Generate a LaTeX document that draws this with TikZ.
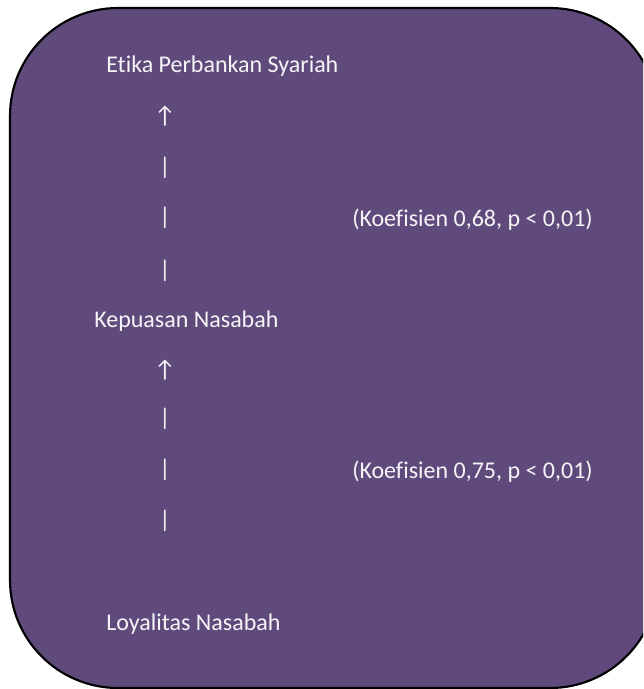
\documentclass[tikz,border=0pt]{standalone}
\usepackage{fontspec}
\setmainfont{Carlito}[Ligatures={NoCommon}]
\definecolor{boxpurple}{RGB}{96,74,123}
\definecolor{txtwhite}{RGB}{245,245,248}
\begin{document}
\begin{tikzpicture}[x=0.75pt,y=-0.75pt,
  lbl/.style={anchor=base west,inner sep=0pt,text=txtwhite,font=\fontsize{18}{20}\selectfont},
  bar/.style={anchor=center,inner sep=0pt,text=txtwhite,font=\fontsize{18}{20}\selectfont},
  uparr/.style={anchor=center,inner sep=0pt,text=txtwhite,font=\fontsize{18}{20}\selectfont}]
\fill[white] (0,0) rectangle (643,689);
\useasboundingbox (0,0) rectangle (643,689);
\begin{scope}
\clip (0,0) rectangle (643,689);
\draw[line width=1.6pt,fill=boxpurple,rounded corners=108*0.75pt] (10,8) rectangle (658,688);
\end{scope}
\node[lbl] (etika) at (106,72) {Etika Perbankan Syariah};
\node[uparr] (a1) at (165,116) {↑};
\node[bar] (b1) at (165,168) {|};
\node[bar] (b2) at (165,218) {|};
\node[bar] (b3) at (165,271) {|};
\node[lbl] (k1) at (352,226) {(Koefisien 0,68, p < 0,01)};
\node[lbl] (kepuasan) at (94,327) {Kepuasan Nasabah};
\node[uparr] (a2) at (165,370) {↑};
\node[bar] (b4) at (165,419) {|};
\node[bar] (b5) at (165,470) {|};
\node[bar] (b6) at (165,521) {|};
\node[lbl] (k2) at (352,478) {(Koefisien 0,75, p < 0,01)};
\node[lbl] (loyal) at (106,630) {Loyalitas Nasabah};
\end{tikzpicture}
\end{document}
